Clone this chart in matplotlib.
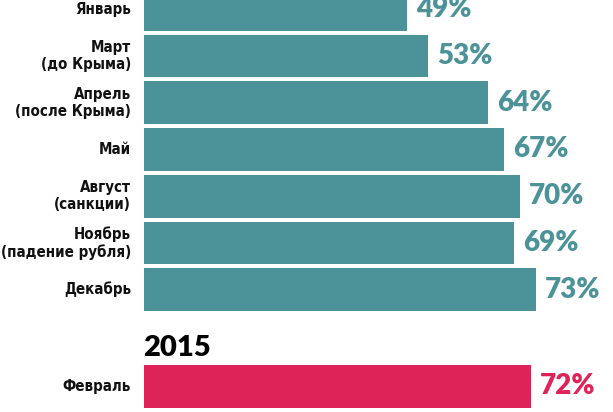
import matplotlib
matplotlib.use('Agg')
import matplotlib.pyplot as plt
import numpy as np

# data
months_2014 = ["Январь", "Март\n(до Крыма)", "Апрель\n(после Крыма)", "Май",
               "Август\n(санкции)", "Ноябрь\n(падение рубля)", "Декабрь"]
values_2014 = [49, 53, 64, 67, 70, 69, 73]
months_2015 = ["Февраль"]
values_2015 = [72]
year_label = "2015"

teal = '#4c9399'
red = '#de2359'

fig = plt.figure(figsize=(6.13, 4.12), dpi=100)
ax = fig.add_axes([0, 0, 1, 1])

pos_2014 = np.arange(len(values_2014))
pos_2015 = len(values_2014) + 1.07 + np.arange(len(values_2015))

bar_h = 0.914
ax.barh(pos_2014, values_2014, height=bar_h, color=teal)
ax.barh(pos_2015, values_2015, height=bar_h, color=red)

# condensed bold for the row labels, heavy for the numbers
label_font = dict(family='DejaVu Sans', fontstretch='condensed', fontweight='bold')
num_font = dict(family=['Lato', 'DejaVu Sans'], fontweight=800)

rows = list(zip(pos_2014, months_2014, values_2014, [teal] * len(values_2014))) + \
    list(zip(pos_2015, months_2015, values_2015, [red] * len(values_2015)))
for p, lab, v, c in rows:
    ax.annotate(lab, xy=(0, p), xytext=(-9, 0), textcoords='offset points',
                ha='right', va='center', fontsize=10.8, color='#111111',
                linespacing=1.2, **label_font)
    ax.annotate(f"{v}%", xy=(v, p), xytext=(6.5, 0), textcoords='offset points',
                ha='left', va='center', fontsize=20, color=c, **num_font)

ax.text(0, pos_2015[0] - 0.65, year_label, ha='left', va='baseline',
        fontsize=21, color='black', **num_font)

ax.set_xlim(-26.72, 87.33)
ax.set_ylim(8.62, -0.2)
ax.axis('off')

fig.savefig('out.png', dpi=100)
